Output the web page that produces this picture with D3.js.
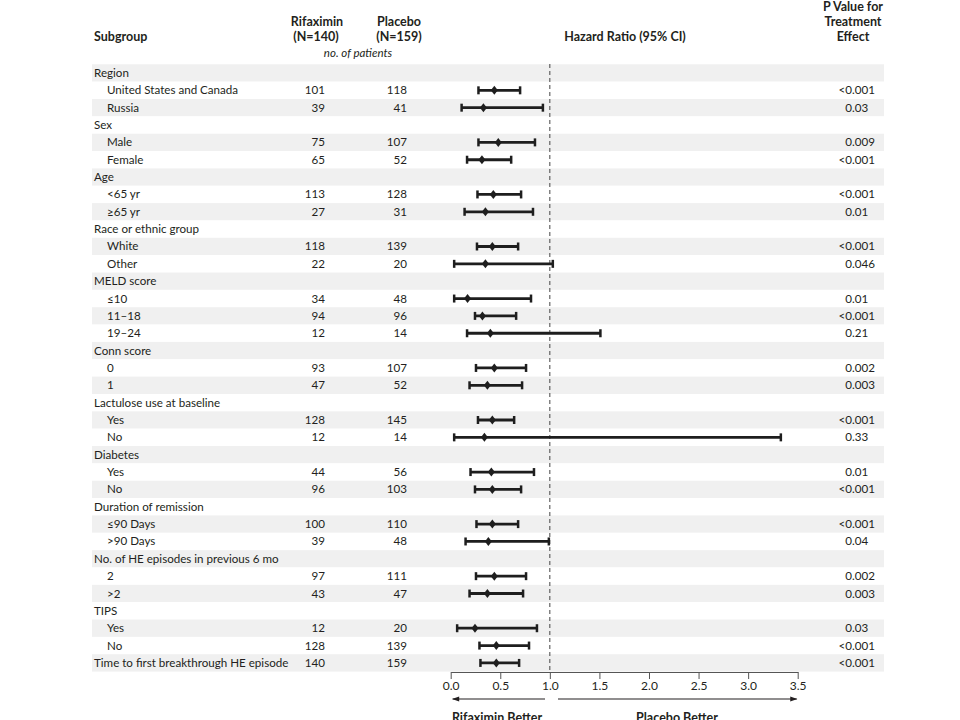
<!DOCTYPE html>
<html>
<head>
<meta charset="utf-8">
<script src="https://cdn.jsdelivr.net/npm/d3@7"></script>
<style>
  body { margin: 0; background: #fff; }
  svg text { font-family: Lato, "Open Sans", sans-serif; fill: #231f20; }
</style>
</head>
<body>
<svg id="chart"></svg>
<script>
const subgroups = ["Region", "United States and Canada", "Russia", "Sex", "Male", "Female",
  "Age", "<65 yr", "\u226565 yr", "Race or ethnic group", "White", "Other",
  "MELD score", "\u226410", "11\u201318", "19\u201324", "Conn score", "0", "1",
  "Lactulose use at baseline", "Yes", "No", "Diabetes", "Yes", "No",
  "Duration of remission", "\u226490 Days", ">90 Days", "No. of HE episodes in previous 6 mo", "2", ">2",
  "TIPS", "Yes", "No", "Time to first breakthrough HE episode"];
const indent = [0,1,1,0,1,1,0,1,1,0,1,1,0,1,1,1,0,1,1,0,1,1,0,1,1,0,1,1,0,1,1,0,1,1,0];
const rifaximinN = [null,101,39,null,75,65,null,113,27,null,118,22,null,34,94,12,null,93,47,null,128,12,null,44,96,null,100,39,null,97,43,null,12,128,140];
const placeboN = [null,118,41,null,107,52,null,128,31,null,139,20,null,48,96,14,null,107,52,null,145,14,null,56,103,null,110,48,null,111,47,null,20,139,159];
const hr = [null,0.44,0.33,null,0.48,0.315,null,0.43,0.35,null,0.42,0.35,null,0.17,0.32,0.40,null,0.44,0.37,null,0.42,0.34,null,0.41,0.42,null,0.42,0.38,null,0.44,0.37,null,0.245,0.46,0.46];
const ciLow = [null,0.28,0.11,null,0.28,0.165,null,0.27,0.14,null,0.265,0.035,null,0.035,0.245,0.165,null,0.255,0.19,null,0.275,0.035,null,0.20,0.245,null,0.26,0.15,null,0.255,0.19,null,0.065,0.29,0.30];
const ciHigh = [null,0.70,0.93,null,0.85,0.61,null,0.71,0.83,null,0.68,1.03,null,0.81,0.66,1.51,null,0.76,0.72,null,0.64,3.33,null,0.84,0.71,null,0.68,0.99,null,0.76,0.73,null,0.87,0.79,0.69];
const pValues = [null,"<0.001","0.03",null,"0.009","<0.001",null,"<0.001","0.01",null,"<0.001","0.046",null,"0.01","<0.001","0.21",null,"0.002","0.003",null,"<0.001","0.33",null,"0.01","<0.001",null,"<0.001","0.04",null,"0.002","0.003",null,"0.03","<0.001","<0.001"];
const axisTicks = [0, 0.5, 1.0, 1.5, 2.0, 2.5, 3.0, 3.5];

const width = 960, height = 720;
const rows = subgroups.map((s, i) => ({
  label: s, indent: indent[i], nR: rifaximinN[i], nP: placeboN[i],
  hr: hr[i], lo: ciLow[i], hi: ciHigh[i], p: pValues[i]
}));

const svg = d3.select("#chart").attr("width", width).attr("height", height);

const x = d3.scaleLinear().domain([0, 3.5]).range([450.7, 797.7]);
const y = d3.scaleBand().domain(d3.range(rows.length)).range([64.3, 671.6]);
const yc = i => y(i) + y.bandwidth() / 2;

// stripes
svg.append("g").selectAll("rect").data(rows).join("rect")
  .attr("x", 92).attr("width", 884 - 92)
  .attr("y", (d, i) => y(i)).attr("height", y.bandwidth())
  .attr("fill", (d, i) => i % 2 === 0 ? "#f0f0f0" : "#fff");

// headers
const hdr = svg.append("g").style("font-weight", "bold").style("font-size", "12.5px");
hdr.append("text").attr("x", 94).attr("y", 41).text("Subgroup");
hdr.append("text").attr("x", 317).attr("y", 26).attr("text-anchor", "middle").text("Rifaximin");
hdr.append("text").attr("x", 316).attr("y", 41).attr("text-anchor", "middle").text("(N=140)");
hdr.append("text").attr("x", 399).attr("y", 26).attr("text-anchor", "middle").text("Placebo");
hdr.append("text").attr("x", 399).attr("y", 41).attr("text-anchor", "middle").text("(N=159)");
hdr.append("text").attr("x", 625).attr("y", 41).attr("text-anchor", "middle").text("Hazard Ratio (95% CI)");
["P Value for", "Treatment", "Effect"].forEach((t, k) => {
  hdr.append("text").attr("x", 853).attr("y", 11 + k * 15).attr("text-anchor", "middle").text(t);
});
svg.append("text").attr("x", 358).attr("y", 57).attr("text-anchor", "middle")
  .style("font-style", "italic").style("font-size", "11.5px").text("no. of patients");

// row texts
const txt = svg.append("g").style("font-size", "11.6px");
txt.selectAll(".lab").data(rows).join("text").attr("class", "lab")
  .attr("x", d => d.indent ? 107 : 94).attr("y", (d, i) => yc(i) + 4)
  .text(d => d.label);
txt.selectAll(".nr").data(rows.filter(d => d.nR != null)).join("text").attr("class", "nr")
  .attr("x", 325).attr("y", d => yc(rows.indexOf(d)) + 4).attr("text-anchor", "end")
  .text(d => d.nR);
txt.selectAll(".np").data(rows.filter(d => d.nP != null)).join("text").attr("class", "np")
  .attr("x", 407).attr("y", d => yc(rows.indexOf(d)) + 4).attr("text-anchor", "end")
  .text(d => d.nP);
// p values aligned on the decimal point
const pRows = rows.filter(d => d.p != null);
txt.selectAll(".pa").data(pRows).join("text").attr("class", "pa")
  .attr("x", 852).attr("y", d => yc(rows.indexOf(d)) + 4).attr("text-anchor", "end")
  .text(d => d.p.split(".")[0]);
txt.selectAll(".pb").data(pRows).join("text").attr("class", "pb")
  .attr("x", 852).attr("y", d => yc(rows.indexOf(d)) + 4)
  .text(d => "." + d.p.split(".")[1]);

// reference line
svg.append("line")
  .attr("x1", x(1)).attr("x2", x(1)).attr("y1", 64).attr("y2", 672)
  .attr("stroke", "#444").attr("stroke-width", 1).attr("stroke-dasharray", "4,3");

// CIs
const ci = svg.append("g").attr("stroke", "#1e1e1e").attr("fill", "#1e1e1e");
const dataRows = rows.map((d, i) => ({ ...d, i })).filter(d => d.hr != null);
ci.selectAll(".bar").data(dataRows).join("line").attr("class", "bar")
  .attr("x1", d => x(d.lo)).attr("x2", d => x(d.hi))
  .attr("y1", d => yc(d.i)).attr("y2", d => yc(d.i)).attr("stroke-width", 2.8);
ci.selectAll(".capl").data(dataRows).join("line").attr("class", "capl")
  .attr("x1", d => x(d.lo)).attr("x2", d => x(d.lo))
  .attr("y1", d => yc(d.i) - 4).attr("y2", d => yc(d.i) + 4).attr("stroke-width", 2.5);
ci.selectAll(".caph").data(dataRows).join("line").attr("class", "caph")
  .attr("x1", d => x(d.hi)).attr("x2", d => x(d.hi))
  .attr("y1", d => yc(d.i) - 4).attr("y2", d => yc(d.i) + 4).attr("stroke-width", 2.5);
ci.selectAll(".pt").data(dataRows).join("path").attr("class", "pt")
  .attr("d", d => { const cx = x(d.hr), cy = yc(d.i); return `M${cx},${cy-4.5}L${cx+3.5},${cy}L${cx},${cy+4.5}L${cx-3.5},${cy}Z`; })
  .attr("stroke", "none");

// axis
const axis = svg.append("g").attr("transform", "translate(0,672)")
  .call(d3.axisBottom(x).tickValues(axisTicks).tickFormat(d3.format(".1f")).tickSize(7).tickSizeOuter(0));
axis.select(".domain").attr("stroke", "#555");
axis.selectAll(".tick line").attr("stroke", "#555");
axis.selectAll(".tick text").attr("y", 9).style("font-size", "12px")
  .style("font-family", "Lato, 'Open Sans', sans-serif").attr("fill", "#231f20");

// arrows
const defs = svg.append("defs");
defs.append("marker").attr("id", "arr").attr("viewBox", "0 0 10 10").attr("refX", 9).attr("refY", 5)
  .attr("markerWidth", 9).attr("markerHeight", 6).attr("orient", "auto-start-reverse")
  .append("path").attr("d", "M0,1.5L10,5L0,8.5Z").attr("fill", "#231f20");
svg.append("line").attr("x1", 545).attr("x2", x(0) + 2).attr("y1", 699).attr("y2", 699)
  .attr("stroke", "#231f20").attr("stroke-width", 1.2).attr("marker-end", "url(#arr)");
svg.append("line").attr("x1", 558).attr("x2", x(3.5) - 1).attr("y1", 699).attr("y2", 699)
  .attr("stroke", "#231f20").attr("stroke-width", 1.2).attr("marker-end", "url(#arr)");
svg.append("text").attr("x", 497).attr("y", 722).attr("text-anchor", "middle")
  .style("font-weight", "bold").style("font-size", "12.5px").text("Rifaximin Better");
svg.append("text").attr("x", 677).attr("y", 722).attr("text-anchor", "middle")
  .style("font-weight", "bold").style("font-size", "12.5px").text("Placebo Better");
</script>
</body>
</html>
